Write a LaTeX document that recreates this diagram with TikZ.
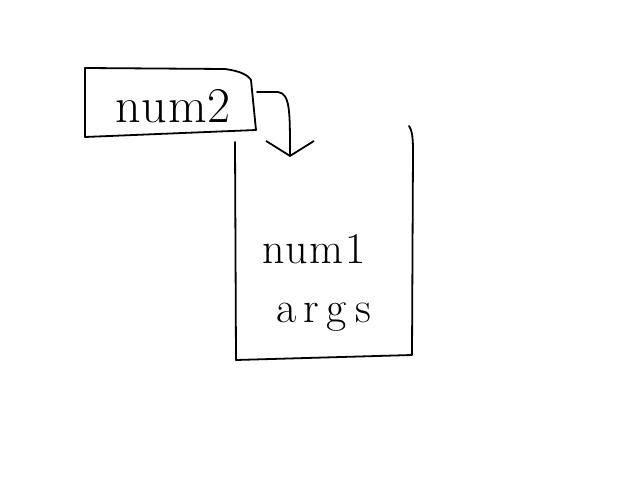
\documentclass[tikz,border=0pt]{standalone}
\usetikzlibrary{arrows.meta}
\begin{document}
\begin{tikzpicture}[x=1pt,y=-1pt,
  ink/.style={line width=1.8pt, line cap=round, line join=round, black},
  handtext/.style={inner sep=0pt, font=\fontsize{44}{48}\selectfont}]
\useasboundingbox[fill=white] (0,0) rectangle (634,478);
% small box with num2
\node[handtext, font=\fontsize{50}{52}\selectfont] (num2) at (173,106) {n\kern1pt u\kern1pt m\kern1pt 2};
\draw[ink] (85,68) -- (225,69) .. controls (240,71) and (248,75) .. (251,80)
  -- (256,130) -- (85,137) -- cycle;
\coordinate (smallE) at (257,92);
% large box (open top)
\coordinate (bigTL) at (235,142);
\coordinate (bigTR) at (409,126);
\draw[ink] (bigTL) -- (236,360) -- (412,355) -- (413,150)
  .. controls (413,138) and (412,130) .. (bigTR);
\node[handtext] (num1) at (314,249) {n\kern1pt u\kern1pt m\kern2pt 1};
\node[handtext] (args) at (324,317) {a\kern7pt r\kern7pt g\kern9pt s};
\coordinate (target) at (290,157);
% arrow
\draw[ink, -{Straight Barb[length=15pt,width=48pt,line width=1.8pt]}]
  (smallE) -- (278,92) .. controls (290,94) and (290,110) .. (target);
\end{tikzpicture}
\end{document}
